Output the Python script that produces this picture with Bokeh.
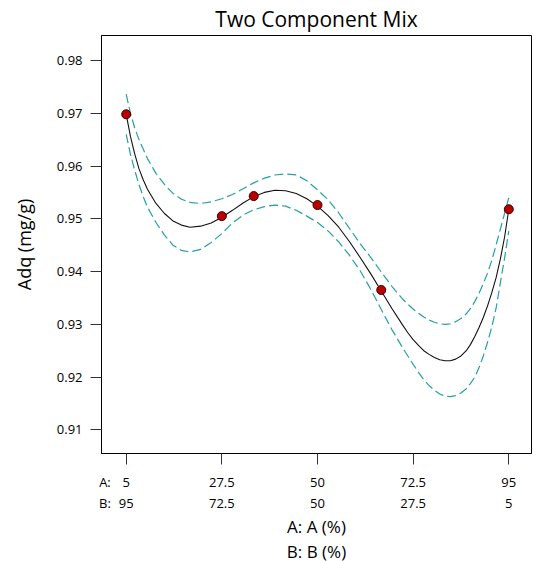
from bokeh.plotting import figure
from bokeh.models import LinearAxis, FixedTicker, Range1d, Title
from bokeh.embed import file_html
from bokeh.resources import INLINE

# ---------------- data ----------------
title_text = "Two Component Mix"
y_label = "Adq (mg/g)"
x_label_a = "A: A (%)"
x_label_b = "B: B (%)"
row_a = "A:"
row_b = "B:"

tick_a = [5, 27.5, 50, 72.5, 95]
tick_b = [95, 72.5, 50, 27.5, 5]
y_ticks = [0.91, 0.92, 0.93, 0.94, 0.95, 0.96, 0.97, 0.98]

design_a = [5, 27.5, 35, 50, 65, 95]
design_adq = [0.9698, 0.9505, 0.9543, 0.9526, 0.9365, 0.9518]

curve_a = [5, 6, 7, 8, 9, 10, 12, 14, 16, 18, 20, 22.5, 25, 27.5, 30, 32.5, 35,
           37.5, 40, 42.5, 45, 47.5, 50, 52.5, 55, 57.5, 60, 62.5, 65, 67.5,
           70, 71.25, 72.5, 73.75, 75, 76.25, 77.5, 78.75, 80, 81.25, 82.5,
           83.75, 85, 86, 87, 88, 89, 90, 91, 92, 93, 94, 95]
curve_fit = [0.9698, 0.9656, 0.9623, 0.9595, 0.9574, 0.9556, 0.9529, 0.9510,
             0.9496, 0.9488, 0.9484, 0.9486, 0.9492, 0.9503, 0.9516, 0.9530,
             0.9542, 0.9550, 0.9554, 0.9553, 0.9548, 0.9538, 0.9524, 0.9506,
             0.9484, 0.9457, 0.9427, 0.9396, 0.9363, 0.9330,
             0.9299, 0.9284, 0.9271, 0.9260, 0.9250, 0.9243, 0.9237, 0.9233,
             0.9231, 0.9231, 0.9234, 0.9240, 0.9250, 0.9262, 0.9277, 0.9294,
             0.9313, 0.9335, 0.9360, 0.9388, 0.9423, 0.9465, 0.9518]
curve_upper = [0.9736, 0.9700, 0.9672, 0.9650, 0.9632, 0.9614, 0.9586, 0.9565,
               0.9548, 0.9537, 0.9531, 0.9529, 0.9532, 0.9538, 0.9546, 0.9557,
               0.9568, 0.9577, 0.9583, 0.9585, 0.9583, 0.9572, 0.9555, 0.9536,
               0.9511, 0.9482, 0.9453, 0.9427, 0.9399, 0.9372,
               0.9348, 0.9338, 0.9329, 0.9321, 0.9314, 0.9308, 0.9304, 0.9301,
               0.9300, 0.9301, 0.9305, 0.9311, 0.9320, 0.9330, 0.9343, 0.9359,
               0.9377, 0.9397, 0.9421, 0.9450, 0.9480, 0.9510, 0.9540]
curve_lower = [0.9660, 0.9622, 0.9592, 0.9565, 0.9542, 0.9522, 0.9493, 0.9469,
               0.9450, 0.9440, 0.9437, 0.9442, 0.9455, 0.9472, 0.9492, 0.9507,
               0.9517, 0.9523, 0.9526, 0.9524, 0.9516, 0.9505, 0.9493, 0.9477,
               0.9456, 0.9431, 0.9402, 0.9367, 0.9328, 0.9290,
               0.9256, 0.9240, 0.9224, 0.9209, 0.9195, 0.9184, 0.9175, 0.9168,
               0.9164, 0.9163, 0.9165, 0.9170, 0.9178, 0.9188, 0.9200, 0.9218,
               0.9240, 0.9266, 0.9295, 0.9330, 0.9378, 0.9425, 0.9477]

# ---------------- style ----------------
FONT = "Open Sans"
W, H = 536, 561
TEAL = "#26a0a0"
ROW_LABEL_AT = 0.0   # x position (in A units) of the "A:" / "B:" row captions

p = figure(width=W, height=H, output_backend="svg", toolbar_location=None,
           x_range=Range1d(-0.81, 100.34), y_range=Range1d(0.90552, 0.98473),
           min_border_left=101, min_border_right=5, min_border_top=34,
           min_border_bottom=108, x_axis_location=None)
p.grid.visible = False
p.outline_line_color = "#000000"
p.outline_line_width = 1
p.background_fill_color = "white"
p.border_fill_color = "white"

p.title.text = title_text
p.title.align = "center"
p.title.text_font = FONT
p.title.text_font_size = "21px"
p.title.text_font_style = "normal"
p.title.text_color = "#000000"
p.title.standoff = 5

# y axis
ya = p.yaxis[0]
ya.ticker = FixedTicker(ticks=y_ticks)
ya.axis_label = y_label
ya.axis_label_text_font = FONT
ya.axis_label_text_font_size = "18px"
ya.axis_label_text_font_style = "normal"
ya.axis_label_text_color = "#000000"
ya.axis_label_standoff = 18
ya.major_label_text_font = FONT
ya.major_label_text_font_size = "13px"
ya.major_label_text_color = "#000000"
ya.major_label_standoff = 8
ya.major_tick_out = 11
ya.major_tick_in = 0
ya.minor_tick_out = 0
ya.minor_tick_in = 0
ya.axis_line_color = "#000000"
ya.major_tick_line_color = "#333333"

def plain_axis(ticks, labels, standoff):
    ax = LinearAxis(ticker=FixedTicker(ticks=ticks),
                    major_label_overrides=dict(zip(ticks, labels)))
    ax.major_label_text_font = FONT
    ax.major_label_text_font_size = "13px"
    ax.major_label_text_color = "#000000"
    ax.major_label_standoff = standoff
    ax.major_tick_out = 0
    ax.major_tick_in = 0
    ax.minor_tick_out = 0
    ax.minor_tick_in = 0
    ax.axis_line_color = None
    return ax

# x axis: tick marks only
xt = LinearAxis(ticker=FixedTicker(ticks=tick_a),
                major_label_overrides={a: "" for a in tick_a})
xt.major_label_text_font_size = "0px"
xt.major_label_standoff = 0
xt.major_tick_out = 11
xt.major_tick_in = 0
xt.minor_tick_out = 0
xt.minor_tick_in = 0
xt.axis_line_color = "#000000"
xt.major_tick_line_color = "#333333"
p.add_layout(xt, "below")

# row A and row B of tick labels
xa = plain_axis([ROW_LABEL_AT] + tick_a, [row_a] + [f"{a:g}" for a in tick_a], 8)
p.add_layout(xa, "below")
xb = plain_axis([ROW_LABEL_AT] + tick_a, [row_b] + [f"{b:g}" for b in tick_b], 0)
xb.axis_label = x_label_a
xb.axis_label_text_font = FONT
xb.axis_label_text_font_size = "17px"
xb.axis_label_text_font_style = "normal"
xb.axis_label_text_color = "#000000"
xb.axis_label_standoff = 0
p.add_layout(xb, "below")

p.add_layout(Title(text=x_label_b, align="center", text_font=FONT,
                   text_font_size="17px", text_font_style="normal",
                   text_color="#000000", standoff=-6), "below")

# curves
p.line(curve_a, curve_upper, line_color=TEAL, line_width=1.2, line_dash="9 4")
p.line(curve_a, curve_lower, line_color=TEAL, line_width=1.2, line_dash="9 4")
p.line(curve_a, curve_fit, line_color="#111111", line_width=1.1)
p.scatter(design_a, design_adq, size=9, fill_color="#bb0000",
          line_color="#3a0000", line_width=1)

open("out.html", "w").write(file_html(p, INLINE))
